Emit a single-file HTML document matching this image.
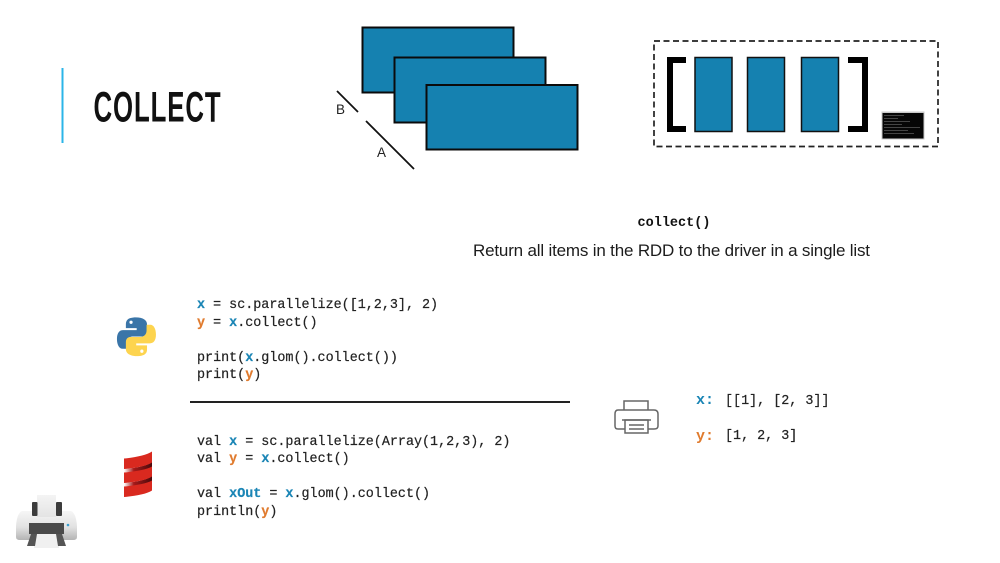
<!DOCTYPE html>
<html>
<head>
<meta charset="utf-8">
<title>Collect</title>
<style>
html,body{margin:0;padding:0;background:#fff;width:1000px;height:563px;overflow:hidden}
svg{display:block}
text{white-space:pre}
.m{font-family:"Liberation Mono",monospace;font-size:13.4px;fill:#222;stroke:#222;stroke-width:.2px}
.s{font-family:"Liberation Sans",sans-serif}
.b{fill:#1a85b5;stroke:#1a85b5}.o{fill:#e07b2e;stroke:#e07b2e}
</style>
</head>
<body>
<svg width="1000" height="563" viewBox="0 0 1000 563" xmlns="http://www.w3.org/2000/svg">
<defs>
<linearGradient id="pb" x1="0" y1="0" x2="0" y2="1">
<stop offset="0" stop-color="#f6f6f6"/><stop offset="0.550" stop-color="#e2e2e2"/><stop offset="1" stop-color="#b4b4b4"/>
</linearGradient>
<linearGradient id="pp" x1="0" y1="0" x2="0" y2="1">
<stop offset="0" stop-color="#f4f4f4"/><stop offset="1" stop-color="#e4e4e4"/>
</linearGradient>
<linearGradient id="sd" x1="0" y1="0" x2="1" y2="0">
<stop offset="0" stop-color="#fff"/><stop offset="0.350" stop-color="#a51a1a"/><stop offset="1" stop-color="#4a0a0c"/>
</linearGradient>
</defs>
<rect width="1000" height="563" fill="#fff"/>

<!-- title -->
<rect x="61.500" y="68" width="2" height="75" fill="#2bb5e8"/>
<text class="s" transform="translate(93.500 121.500) scale(.6 1)" font-size="43" font-weight="bold" letter-spacing="1.500" fill="#111">COLLECT</text>

<!-- stacked partitions -->
<g fill="#1581b0" stroke="#0b0b0b" stroke-width="2">
<rect x="362.500" y="27.500" width="151" height="65"/>
<rect x="394.500" y="57.500" width="151" height="65"/>
<rect x="426.500" y="85" width="151" height="64.500"/>
</g>
<g stroke="#111" stroke-width="1.800" fill="none">
<line x1="337" y1="91" x2="358" y2="112"/>
<line x1="366" y1="121" x2="414" y2="169"/>
</g>
<text class="s" x="336" y="114" font-size="13.500" fill="#222">B</text>
<text class="s" x="377" y="157" font-size="13.500" fill="#222">A</text>

<!-- dashed box -->
<rect x="654" y="41" width="284" height="105.500" fill="none" stroke="#222" stroke-width="1.700" stroke-dasharray="6 3.500"/>
<path d="M686 60H670V129H686" fill="none" stroke="#000" stroke-width="6"/>
<path d="M848 60H865V129H848" fill="none" stroke="#000" stroke-width="6"/>
<g fill="#1581b0" stroke="#111" stroke-width="1.500">
<rect x="695" y="57.500" width="37" height="74"/>
<rect x="747.500" y="57.500" width="37" height="74"/>
<rect x="801.500" y="57.500" width="37" height="74"/>
</g>
<!-- terminal thumbnail -->
<rect x="881.500" y="111.500" width="43" height="28" fill="#c9c9c9"/>
<rect x="882.500" y="113" width="41" height="25.500" fill="#060606"/>
<g fill="#444">
<rect x="884" y="115" width="20" height="1"/>
<rect x="884" y="118" width="14" height="1"/>
<rect x="884" y="121" width="26" height="1"/>
<rect x="884" y="124" width="18" height="1"/>
<rect x="884" y="127" width="36" height="1"/>
<rect x="884" y="130" width="24" height="1"/>
<rect x="884" y="133" width="30" height="1"/>
</g>

<!-- description -->
<text x="674" y="226" text-anchor="middle" font-family="Liberation Mono, monospace" font-size="13.500" font-weight="bold" fill="#111">collect()</text>
<text class="s" x="473" y="256" font-size="17" fill="#1c1c1c" textLength="397" lengthAdjust="spacing">Return all items in the RDD to the driver in a single list</text>

<!-- python code -->
<text class="m" x="197" y="308"><tspan class="b" font-weight="bold">x</tspan> = sc.parallelize([1,2,3], 2)</text>
<text class="m" x="197" y="326"><tspan class="o" font-weight="bold">y</tspan> = <tspan class="b" font-weight="bold">x</tspan>.collect()</text>
<text class="m" x="197" y="361">print(<tspan class="b" font-weight="bold">x</tspan>.glom().collect())</text>
<text class="m" x="197" y="378">print(<tspan class="o" font-weight="bold">y</tspan>)</text>

<!-- python logo -->
<g transform="translate(136.500 336.800) scale(.94 .98) translate(-136.300 -336.800)">
<path d="M136 317c-9 0-11 3-11 7v4h11.500v2H122c-4 0-6.500 3-6.500 9s2.500 10 6 10h4v-6c0-4 3-6.500 7-6.500h10c3 0 5-2 5-5V324c0-4-4-7-12-7z" fill="#3a75a8"/>
<path d="M136.500 356.500c9 0 11-3 11-7v-4H136v-2h14.500c4 0 6.500-3 6.500-9s-2.500-10-6-10h-4v6c0 4-3 6.500-7 6.500h-10c-3 0-5 2-5 5v7.500c0 4 4 7 12 7z" fill="#fdd44f"/>
<circle cx="130.500" cy="322" r="1.700" fill="#fff"/>
<circle cx="142" cy="351.500" r="1.700" fill="#fff"/>
</g>

<!-- divider -->
<rect x="190" y="401" width="380" height="2" fill="#222"/>

<!-- scala code -->
<text class="m" x="197" y="445">val <tspan class="b" font-weight="bold">x</tspan> = sc.parallelize(Array(1,2,3), 2)</text>
<text class="m" x="197" y="462">val <tspan class="o" font-weight="bold">y</tspan> = <tspan class="b" font-weight="bold">x</tspan>.collect()</text>
<text class="m" x="197" y="497">val <tspan class="b" font-weight="bold">xOut</tspan> = <tspan class="b" font-weight="bold">x</tspan>.glom().collect()</text>
<text class="m" x="197" y="515">println(<tspan class="o" font-weight="bold">y</tspan>)</text>

<!-- scala logo -->
<g fill="url(#sd)">
<path d="M124 469C135 468 147 466 152 462V467C147 470.500 135 472 124 472.500z"/>
<path d="M124 483C135 482 147 480 152 476V481C147 484.500 135 486 124 486.500z"/>
</g>
<g fill="#d9291f">
<path d="M124 458.500C135 457.500 147 455 152 451.500V462.500C147 466 135 468 124 469z"/>
<path d="M124 472.500C135 471.500 147 469.500 152 466.500V476.500C147 480 135 482 124 483z"/>
<path d="M124 486.500C135 485.500 147 483.500 152 480.500V490.500C147 494 135 496 124 497z"/>
</g>

<!-- realistic printer icon -->
<path d="M22 511H71Q76 513 77 526V537Q77 540 73 540H20Q16 540 16 537V526Q17 513 22 511z" fill="url(#pb)"/>
<rect x="37" y="495" width="19" height="22" fill="url(#pp)"/>
<rect x="32" y="502" width="5.500" height="14" rx="1" fill="#3c3c3c"/>
<rect x="56" y="502" width="6" height="14" rx="1" fill="#3c3c3c"/>
<rect x="34" y="534" width="25" height="14" fill="#f0f0f0"/>
<rect x="29" y="523" width="35" height="11" fill="#4a4a4a"/>
<path d="M31 534H37L35 546H27zM56 534H62L66 546H58z" fill="#555"/>
<circle cx="68" cy="525" r="1.300" fill="#3a9fd0"/>

<!-- outline printer icon -->
<g fill="none" stroke="#666" stroke-width="1.500">
<path d="M624 410V401H648V410"/>
<path d="M625 429H618Q615 429 615 426V414Q615 410 618 410H654Q658 410 658 414V426Q658 429 654 429H648"/>
<path d="M622 420H651"/>
<rect x="625" y="420" width="23" height="13"/>
<path d="M629 425H644M629 429H644"/>
</g>

<!-- output -->
<text x="696" y="404" font-family="Liberation Mono, monospace" font-size="15" font-weight="bold" fill="#1a85b5">x:</text>
<text class="m" x="725" y="404">[[1], [2, 3]]</text>
<text x="696" y="440" font-family="Liberation Mono, monospace" font-size="15" font-weight="bold" fill="#e07b2e">y:</text>
<text class="m" x="725" y="439">[1, 2, 3]</text>
</svg>
</body>
</html>
